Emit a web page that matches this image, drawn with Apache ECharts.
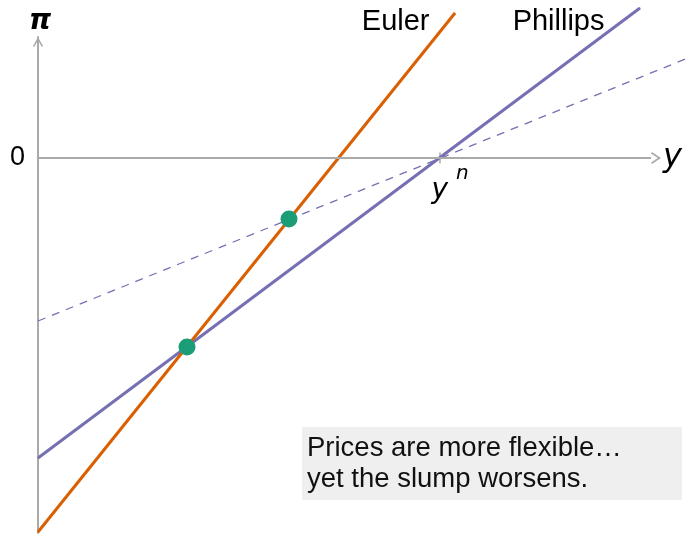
<!DOCTYPE html>
<html>
<head>
<meta charset="utf-8">
<script src="https://cdn.jsdelivr.net/npm/echarts@6/dist/echarts.min.js"></script>
<style>
  html, body { margin: 0; padding: 0; background: #ffffff; }
  #chart { width: 688px; height: 535px; }
</style>
</head>
<body>
<div id="chart"></div>
<script>
// Euler curve (steep) and Phillips curve, before and after prices become more flexible
const eulerX = [0, 4.17];
const eulerY = [-3.74, 1.45];
const phillipsX = [0, 6.02];
const phillipsY = [-3.0, 1.5];
const oldPhillipsX = [0, 6.5];
const oldPhillipsY = [-1.63, 1.0];
// equilibria: old (upper) and new (lower)
const equilibriaX = [2.51, 1.49];
const equilibriaY = [-0.61, -1.89];
// natural output level and the drawn length of the output axis
const naturalOutput = 4.02;
const outputAxisEnd = 6.13;
const labels = { euler: 'Euler', phillips: 'Phillips', yAxis: 'π', xAxis: 'y', zero: '0' };
const note = ['Prices are more flexible…', 'yet the slump worsens.'];

const AXIS_GREY = '#aaaaaa';
const ORANGE = '#d95f02';
const PURPLE = '#7570b3';
const GREEN = '#1b9e77';
const FONT = '"Liberation Sans", Arial, sans-serif';
const MATH_FONT = '"DejaVu Sans", sans-serif';

// thin open chevron pointing "up" along the line direction
const CHEVRON = 'path://M0,9 L5,0 L10,9 L8.8,10 L5,3.2 L1.2,10 Z';

const zip = (xs, ys) => xs.map((x, i) => [x, ys[i]]);

function endLabel(text, distance, dy) {
  return {
    show: true,
    position: 'left',
    distance: distance,
    offset: [0, dy],
    color: '#000',
    fontFamily: FONT,
    fontSize: 29,
    formatter: p => (p.dataIndex === 1 ? text : '')
  };
}

const chart = echarts.init(document.getElementById('chart'), null, { renderer: 'canvas' });

chart.setOption({
  animation: false,
  backgroundColor: '#ffffff',
  grid: { left: 38, right: 0, top: 37, bottom: 2, containLabel: false },
  xAxis: {
    type: 'value',
    min: 0,
    max: 6.5,
    splitLine: { show: false },
    axisTick: { show: false },
    axisLabel: { show: false },
    axisLine: { show: false }
  },
  yAxis: {
    type: 'value',
    min: -3.75,
    max: 1.21,
    splitLine: { show: false },
    axisTick: { show: false },
    axisLabel: {
      show: true,
      customValues: [0],
      formatter: () => labels.zero,
      margin: 13,
      fontFamily: FONT,
      fontSize: 27,
      color: '#000'
    },
    axisLine: {
      show: true,
      onZero: false,
      lineStyle: { color: AXIS_GREY, width: 2 },
      symbol: ['none', CHEVRON],
      symbolSize: [11, 10],
      symbolOffset: [0, -5]
    },
    name: labels.yAxis,
    nameLocation: 'end',
    nameGap: 1,
    nameTextStyle: {
      fontFamily: MATH_FONT, fontStyle: 'italic', fontWeight: 'bold', fontSize: 28, color: '#000',
      align: 'center', padding: [0, 0, 0, 4]
    }
  },
  series: [
    {
      // output axis with arrow head and its name
      name: 'output axis',
      type: 'line',
      data: [],
      markLine: {
        silent: true,
        animation: false,
        symbol: ['none', CHEVRON],
        symbolSize: [12, 10],
        symbolOffset: [0, [0, -5]],
        lineStyle: { color: AXIS_GREY, width: 2, type: 'solid' },
        label: {
          show: true,
          position: 'end',
          distance: 12,
          formatter: labels.xAxis,
          padding: [6, 0, 0, 0],
          fontFamily: MATH_FONT, fontStyle: 'italic', fontSize: 32, color: '#000'
        },
        emphasis: { disabled: true },
        data: [[{ coord: [0, 0] }, { coord: [outputAxisEnd, 0] }]]
      },
      z: 1
    },
    {
      name: 'old Phillips',
      type: 'line',
      data: zip(oldPhillipsX, oldPhillipsY),
      clip: false,
      symbol: 'none',
      lineStyle: { color: PURPLE, width: 1.3, type: [8, 7] },
      z: 2
    },
    {
      name: labels.phillips,
      type: 'line',
      data: zip(phillipsX, phillipsY),
      clip: false,
      showSymbol: true,
      symbol: 'circle',
      symbolSize: 1,
      itemStyle: { color: PURPLE },
      lineStyle: { color: PURPLE, width: 3 },
      label: endLabel(labels.phillips, 35, 14),
      z: 3
    },
    {
      name: labels.euler,
      type: 'line',
      data: zip(eulerX, eulerY),
      clip: false,
      showSymbol: true,
      symbol: 'circle',
      symbolSize: 1,
      itemStyle: { color: ORANGE },
      lineStyle: { color: ORANGE, width: 3 },
      label: endLabel(labels.euler, 25, 9),
      z: 4
    },
    {
      name: 'natural output',
      type: 'scatter',
      data: [[naturalOutput, 0]],
      symbol: 'rect',
      symbolSize: [1.5, 11],
      itemStyle: { color: AXIS_GREY, opacity: 1 },
      label: {
        show: true,
        position: 'bottom',
        distance: 0,
        offset: [10, 0],
        formatter: '{a|y}{b|n}',
        rich: {
          a: { fontFamily: MATH_FONT, fontStyle: 'italic', fontSize: 28, color: '#000' },
          b: { fontFamily: MATH_FONT, fontStyle: 'italic', fontSize: 20, color: '#000', padding: [0, 0, 34, 8] }
        }
      },
      z: 1
    },
    {
      name: 'equilibria',
      type: 'scatter',
      data: zip(equilibriaX, equilibriaY),
      symbol: 'circle',
      symbolSize: 17,
      itemStyle: { color: GREEN, opacity: 1 },
      z: 6
    }
  ],
  graphic: [
    {
      type: 'group',
      right: 6,
      bottom: 35,
      children: [
        { type: 'rect', shape: { x: 0, y: 0, width: 380, height: 73 }, style: { fill: '#efefef' } },
        {
          type: 'text',
          x: 5,
          y: 6,
          style: {
            text: note.join('\n'),
            fontFamily: FONT,
            fontSize: 27.5,
            lineHeight: 31,
            fill: '#111'
          }
        }
      ]
    }
  ]
});
</script>
</body>
</html>
